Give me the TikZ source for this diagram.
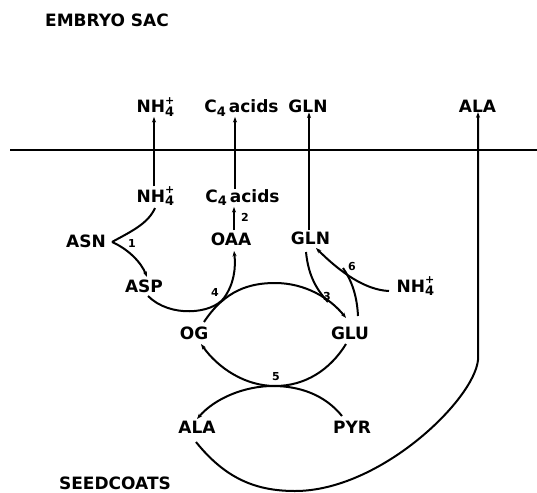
\documentclass[tikz,border=0pt]{standalone}
\usepackage{fontspec}
\setmainfont{DejaVu Sans}
\usetikzlibrary{arrows.meta}
\newcommand{\nhfour}{NH\rlap{\raisebox{-0.22em}{\fontsize{13}{13}\selectfont 4}}\raisebox{0.5em}{\fontsize{11}{11}\selectfont +}}
\newcommand{\cfour}{C\raisebox{-0.22em}{\fontsize{13}{13}\selectfont 4}\hspace{3pt}acids}
\begin{document}
\begin{tikzpicture}[x=1pt,y=-1pt,
  lbl/.style={font=\bfseries\fontsize{17}{20}\selectfont, inner sep=0pt, anchor=base},
  num/.style={font=\bfseries\fontsize{11}{12}\selectfont, inner sep=0pt},
  ln/.style={line width=2pt},
  vl/.style={line width=1.5pt},
  tip/.style={-{Stealth[length=5.5pt,width=4pt]}}]
\path[use as bounding box] (0,0) rectangle (537,492);

% labels
\node[lbl] (embryo) at (107,27) {EMBRYO SAC};
\node[lbl] (seed) at (115,489) {SEEDCOATS};
\node[lbl] (nhT) at (155.5,113) {\nhfour};
\node[lbl] (c4T) at (241.5,113) {\cfour};
\node[lbl] (glnT) at (308,112) {GLN};
\node[lbl] (alaT) at (477.5,112) {ALA};
\node[lbl] (nhL) at (155.5,202) {\nhfour};
\node[lbl] (c4L) at (242.5,202) {\cfour};
\node[lbl] (oaa) at (231,245) {OAA};
\node[lbl] (glnL) at (310.5,244) {GLN};
\node[lbl] (asn) at (86,247) {ASN};
\node[lbl] (asp) at (144,292) {ASP};
\node[lbl] (og) at (194,339) {OG};
\node[lbl] (glu) at (350,339) {GLU};
\node[lbl] (nhR) at (415.5,292) {\nhfour};
\node[lbl] (alaL) at (197,433) {ALA};
\node[lbl] (pyr) at (352,433) {PYR};

% numbers
\node[num] (n1) at (132,243) {1};
\node[num] (n2) at (245,217) {2};
\node[num] (n3) at (327,296) {3};
\node[num] (n4) at (215,292) {4};
\node[num] (n5) at (276,377) {5};
\node[num] (n6) at (352,266) {6};

% membrane
\coordinate (mL) at (10,150);
\coordinate (mR) at (537,150);
\draw[line width=2.8pt] (mL) -- (mR);

% transport lines
\coordinate (xnh) at (154,0);
\coordinate (xc4) at (235,0);
\coordinate (xgln) at (309,0);
\coordinate (xala) at (478,0);
\draw[vl,tip] (nhL.north -| xnh) -- (nhT.south -| xnh);
\draw[vl,tip] (c4L.north -| xc4) -- (c4T.south -| xc4);
\draw[vl,tip,shorten <=1pt] (glnL.north -| xgln) -- (glnT.south -| xgln);
\draw[vl,tip,shorten <=2pt,shorten >=1pt] (oaa.north -| 234,0) -- (c4L.south -| 234,0);

% reaction 1
\coordinate (v1) at (112,242);
\coordinate (nhLb) at (155,208);
\coordinate (aspT) at (147,277);
\draw[ln] (nhLb) .. controls (148,224) and (130,232) .. (v1);
\draw[ln,tip] (v1) .. controls (128,249) and (141,262) .. (aspT);

% reaction 4: ASP -> OAA
\coordinate (aspB) at (148,296);
\coordinate (oaaB) at (234,251);
\draw[ln,tip] (aspB) .. controls (170,318) and (212,314) .. (224,298)
   .. controls (234,284) and (236,268) .. (oaaB);

% upper arch OG -> GLU
\coordinate (ogT) at (204,322);
\coordinate (gluT) at (346,318);
\draw[ln,tip] (ogT) .. controls (225,290) and (250,283) .. (275,283)
   .. controls (305,283) and (330,298) .. (gluT);

% reaction 3: GLN -> arch
\coordinate (glnB) at (306,252);
\draw[ln] (glnB) .. controls (308,272) and (314,287) .. (328,302);

% reaction 6
\coordinate (nhRl) at (389,291);
\coordinate (glnBr) at (316,248);
\coordinate (gluTr) at (358,316);
\draw[ln,tip] (nhRl) .. controls (365,290) and (340,272) .. (glnBr);
\draw[ln] (gluTr) .. controls (357,296) and (352,281) .. (343,268);

% lower arch GLU -> OG (reaction 5)
\coordinate (gluB) at (346,344);
\coordinate (ogB) at (201,344);
\draw[ln,tip] (gluB) .. controls (330,370) and (305,386) .. (275,386)
   .. controls (245,386) and (218,368) .. (ogB);

% PYR -> ALA
\coordinate (pyrT) at (342,416);
\coordinate (alaLT) at (197,419);
\draw[ln,tip] (pyrT) .. controls (325,395) and (300,386) .. (273,386)
   .. controls (245,386) and (215,398) .. (alaLT);

% ALA transport
\coordinate (alaLB) at (196,442);
\draw[ln,tip] (alaLB) .. controls (225,478) and (255,491) .. (295,491)
   .. controls (380,491) and (474,400) .. (478,360) -- (alaT.south -| xala);
\end{tikzpicture}
\end{document}
